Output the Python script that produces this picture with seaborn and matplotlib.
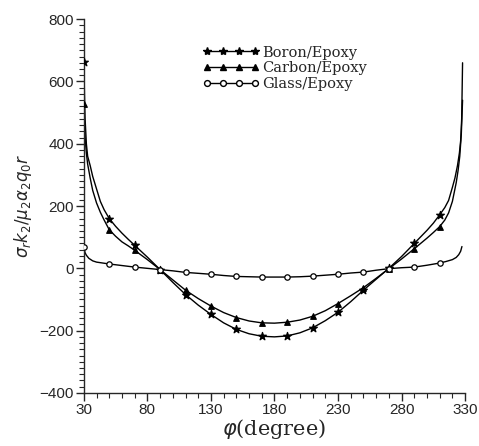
import numpy as np
import pandas as pd
import matplotlib
matplotlib.use("Agg")
import matplotlib.pyplot as plt
from matplotlib.lines import Line2D
from matplotlib.ticker import MultipleLocator
import seaborn as sns

# ---- data ----
phi_boron = [30, 30.5, 31, 32, 33, 35, 37, 40, 43, 46, 50, 55, 60, 65, 70, 80, 90,
             100, 110, 120, 130, 140, 150, 160, 170, 180, 190, 200, 210, 220, 230,
             240, 250, 260, 270, 280, 290, 300, 305, 310, 314, 317, 320, 322, 324,
             325.5, 326.5, 327.3, 328]
val_boron = [663, 560, 480, 400, 360, 330, 295, 255, 215, 188, 160, 135, 113, 93, 74, 36, -4,
             -45, -84, -118, -148, -175, -196, -210, -218, -220, -217, -207, -191, -168, -141,
             -107, -70, -35, 0, 38, 80, 122, 145, 172, 195, 218, 260, 290, 330,
             370, 410, 480, 660]

phi_carbon = [30, 30.5, 31, 32, 33, 35, 37, 40, 43, 46, 50, 55, 60, 65, 70, 80, 90,
              100, 110, 120, 130, 140, 150, 160, 170, 180, 190, 200, 210, 220, 230,
              240, 250, 260, 270, 280, 290, 300, 305, 310, 314, 317, 320, 322, 323,
              324.5, 325.8, 327, 328]
val_carbon = [528, 470, 420, 370, 335, 290, 250, 210, 180, 155, 124, 103, 85, 72, 58, 28, -4,
              -37, -70, -97, -121, -142, -158, -169, -175, -176, -173, -166, -154, -136, -113,
              -88, -62, -32, -1, 30, 63, 97, 115, 134, 155, 178, 215, 255, 275,
              315, 360, 430, 540]

phi_glass = [30, 30.5, 31, 32, 34, 37, 40, 45, 50, 60, 70, 80, 90, 100, 110, 120, 130,
             140, 150, 160, 170, 180, 190, 200, 210, 220, 230, 240, 250, 260, 270, 280,
             290, 300, 310, 315, 320, 323, 325, 326.5, 327.5]
val_glass = [70, 58, 50, 42, 32, 24, 20, 17, 14, 9, 4, 0, -4, -8, -13, -16, -19,
             -23, -26, -27, -28, -28, -28, -27, -25, -22, -19, -15, -12, -6, -1, 2,
             4, 10, 17, 22, 28, 35, 44, 55, 70]

marker_phi = [30, 50, 70, 90, 110, 130, 150, 170, 190, 210, 230, 250, 270, 290, 310]

materials = ["Boron/Epoxy", "Carbon/Epoxy", "Glass/Epoxy"]
x_ticks = [30, 80, 130, 180, 230, 280, 330]
y_ticks = [-400, -200, 0, 200, 400, 600, 800]

# ---- build table ----
frames = []
for name, xs, ys in zip(materials, [phi_boron, phi_carbon, phi_glass],
                        [val_boron, val_carbon, val_glass]):
    frames.append(pd.DataFrame({"phi": xs, "val": ys, "material": name}))
df = pd.concat(frames, ignore_index=True)
df_mk = df[df["phi"].isin(marker_phi)]

styles = {
    "Boron/Epoxy": dict(marker="*", s=34, ms=6, facecolor="black"),
    "Carbon/Epoxy": dict(marker="^", s=16, ms=4.2, facecolor="black"),
    "Glass/Epoxy": dict(marker="o", s=15, ms=4.2, facecolor="white"),
}

sns.set_style("ticks")
plt.rcParams["font.family"] = ["Liberation Sans", "DejaVu Sans"]

fig = plt.figure(figsize=(4.79, 4.46), dpi=100)
ax = fig.add_axes([0.175, 0.119, 0.796, 0.838])

sns.lineplot(data=df, x="phi", y="val", hue="material",
             palette={m: "black" for m in materials}, legend=False,
             linewidth=1.0, ax=ax, estimator=None)

for m in materials:
    st = styles[m]
    sub = df_mk[df_mk["material"] == m]
    sns.scatterplot(data=sub, x="phi", y="val", marker=st["marker"], s=st["s"],
                    facecolor=st["facecolor"], edgecolor="black", linewidth=0.9,
                    ax=ax, legend=False, zorder=3)

ax.set_xlim(30, 330)
ax.set_ylim(-400, 800)
ax.set_xticks(x_ticks)
ax.set_yticks(y_ticks)
ax.xaxis.set_minor_locator(MultipleLocator(10))
ax.yaxis.set_minor_locator(MultipleLocator(20))
ax.tick_params(axis="both", which="major", direction="out", length=6, width=1,
               labelsize=11, pad=1)
ax.tick_params(axis="both", which="minor", direction="out", length=3.5, width=0.8)
for sp in ["top", "right"]:
    ax.spines[sp].set_visible(False)
for sp in ["left", "bottom"]:
    ax.spines[sp].set_linewidth(1.0)

ax.set_xlabel(r"$\varphi$(degree)", fontsize=15, family="DejaVu Serif", labelpad=0)
ax.set_ylabel(r"$\sigma_r k_2/\mu_2\alpha_2 q_0 r$", fontsize=12, labelpad=4)

handles = []
for m in materials:
    st = styles[m]
    handles.append(Line2D([], [], color="black", lw=1.0, marker=st["marker"],
                          markersize=st["ms"],
                          markerfacecolor=st["facecolor"], markeredgecolor="black"))
leg = ax.legend(handles, materials, loc="upper left", bbox_to_anchor=(0.295, 0.945),
                frameon=False, numpoints=4, handlelength=3.9, handletextpad=0.2,
                labelspacing=0.12, borderaxespad=0,
                prop={"family": "DejaVu Serif", "size": 10.5})

fig.savefig("out.png", dpi=100)
